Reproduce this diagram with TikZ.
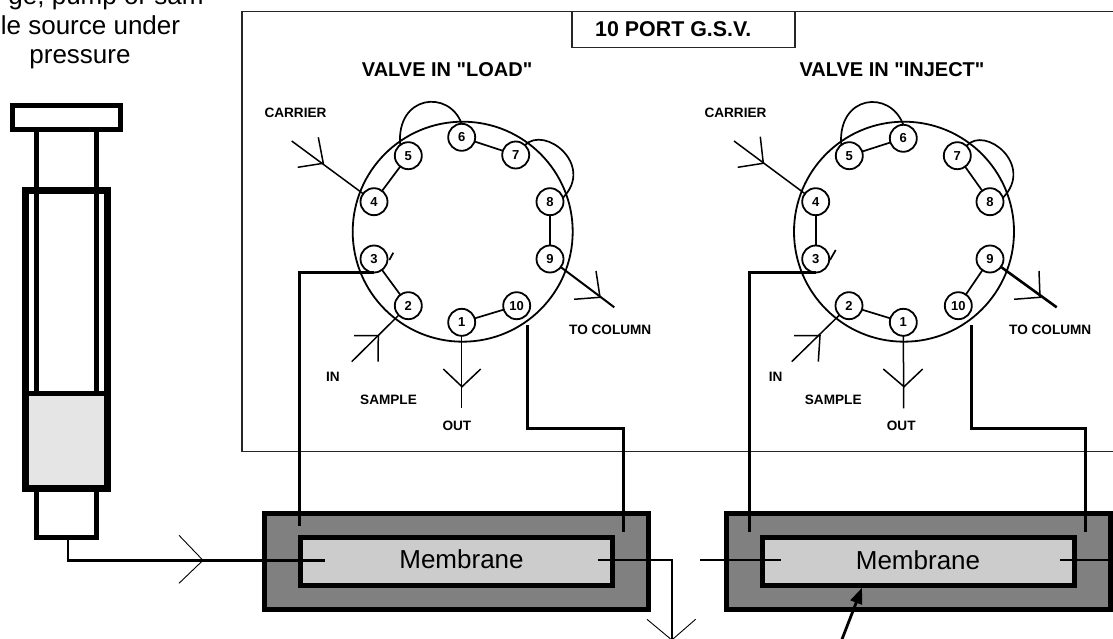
\documentclass[tikz,border=0pt]{standalone}
\usepackage{fontspec}
\setmainfont{Liberation Sans}[Ligatures=TeXOff]
\usetikzlibrary{arrows.meta}

\begin{document}
\begin{tikzpicture}[ x = 1pt
                     , y = -1pt
                     , port/.style = { circle
                                     , draw = black
                                     , line width = 1.8pt
                                     , fill = white
                                     , inner sep = 0pt
                                     , outer sep = 0pt
                                     , minimum size = 27pt
                                     , font = \bfseries\fontsize{13}{13}\selectfont }
                     , dial/.style = { circle
                                     , draw = black
                                     , line width = 1.8pt
                                     , inner sep = 0pt
                                     , outer sep = 0pt
                                     , minimum size = 220pt }
                     , link/.style = { line width = 1.7pt }
                     , barb/.style = { line width = 1.5pt }
                     , thinbarb/.style = { line width = 0.9pt }
                     , pipe/.style = { line width = 2.7pt, line join = miter }
                     , wall/.style = { line width = 4.8pt, draw = black }
                     , tag/.style = { anchor = base west
                                    , inner sep = 0pt
                                    , font = \bfseries\fontsize{13.6}{14}\selectfont }
                     , headline/.style = { anchor = base west
                                         , inner sep = 0pt
                                         , font = \bfseries\fontsize{20}{22}\selectfont }
                     , plain/.style = { anchor = base
                                      , inner sep = 0pt
                                      , font = \fontsize{26}{28}\selectfont }
                     , outerbox/.style = { rectangle
                                         , draw = black
                                         , line width = 4.8pt
                                         , fill = black!50
                                         , outer sep = 0pt
                                         , minimum height = 96pt }
                     , innerbox/.style = { rectangle
                                         , draw = black
                                         , line width = 4.8pt
                                         , fill = black!20
                                         , outer sep = 0pt
                                         , minimum height = 48pt }
                     ]

  \useasboundingbox (0,0) rectangle (1113,639);

  \node (noteA) [plain] at (106,5) {ge, pump or sam};
  \node (noteB) [plain] at (90.5,35) {le source under};
  \node (noteC) [plain] at (80,64) {pressure};

  % syringe
  \draw[wall] (12.4,105.4) rectangle (120.7,129.4);
  \draw[wall, fill = black!10] (25.5,393.3) rectangle (107.3,488.3);
  \draw[wall] (36.5,129.4) -- (36.5,393.3) (96.5,129.4) -- (96.5,393.3);
  \draw[wall, line width = 7pt] (25.5,190.3) rectangle (107.3,488.3);
  \draw[wall] (36.5,488.3) -- (36.5,537.3) -- (96.5,537.3) -- (96.5,488.3);

  % panel
  \draw[line width = 1.3pt, draw = black!85] (1114,11.3) -- (242,11.3) -- (242,451.3) -- (1114,451.3);
  \node (title) [headline, font = \bfseries\fontsize{21.4}{22}\selectfont] at (595,36.7) {10 PORT G.S.V.};
  \draw[line width = 1.3pt, draw = black!85] (572,11.3) |- (795,47.7) -- (795,11.3);

  \node (headL) [headline] at (361.7,76.7) {VALVE IN "LOAD"};
  \node (headR) [headline] at (799.3,76.7) {VALVE IN "INJECT"};

  \node (carrierL) [tag] at (264.3,117.3) {CARRIER};
  \node (carrierR) [tag] at (704.3,117.3) {CARRIER};
  \node (columnL) [tag] at (569,334) {TO COLUMN};
  \node (columnR) [tag] at (1009,334) {TO COLUMN};
  \node (inL) [tag] at (326,381.7) {IN};
  \node (inR) [tag] at (768.7,381.7) {IN};
  \node (sampleL) [tag] at (360,404) {SAMPLE};
  \node (sampleR) [tag] at (804.7,404) {SAMPLE};
  \node (outL) [tag] at (442.3,430) {OUT};
  \node (outR) [tag] at (886.7,430) {OUT};

  \node (dialL) [dial] at (462.7,231.7) {};
  \node (dialR) [dial] at (904,231.7) {};

  \foreach \n/\x/\y in {1/461.7/322.3, 2/408.3/305.7, 3/374/259, 4/374/201.7, 5/408.3/155.7,
                        6/461.7/137.3, 7/515.7/155, 8/550/201.7, 9/550/259, 10/516.7/305.7}
    \node (l\n) [port] at (\x,\y) {\n};

  \foreach \n/\x/\y in {1/903.3/322.3, 2/849/305.7, 3/815.7/259, 4/815.7/201.7, 5/849.3/155.7,
                        6/903.3/138.3, 7/957.3/155.7, 8/990/201.7, 9/990/259, 10/958.3/305.7}
    \node (r\n) [port] at (\x,\y) {\n};

  \foreach \a/\b in {l5/l4, l6/l7, l8/l9, l10/l1, l3/l2, r5/r6, r7/r8, r4/r3, r2/r1, r9/r10}
    \draw[link] (\a) -- (\b);

  % loops outside the dial
  \draw[link] (l5.127) .. controls (396,95) and (449,89) .. (l6.north);
  \draw[link] (l7.47) .. controls (545,125) and (595,165) .. (l8.17);
  \draw[link] (r5.127) .. controls (837.5,95) and (890,89) .. (r6.north);
  \draw[link] (r7.47) .. controls (985,125) and (1035,165) .. (r8.17);

  \coordinate (stubLa) at (389.3,260);
  \coordinate (stubLb) at (393.3,252.7);
  \coordinate (stubRa) at (830,260);
  \coordinate (stubRb) at (835.7,250);
  \draw[link] (stubLa) -- (stubLb);
  \draw[link] (stubRa) -- (stubRb);

  % valve ports out
  \coordinate (carrierEndL) at (291.7,141);
  \coordinate (carrierEndR) at (734,141);
  \coordinate (sampleEndL) at (351.7,361.7);
  \coordinate (sampleEndR) at (791.7,361.7);
  \coordinate (outEndL) at (461.7,408.3);
  \coordinate (outEndR) at (903.7,408.3);
  \coordinate (columnEndL) at (614.3,307.3);
  \coordinate (columnEndR) at (1056.7,307.3);

  \draw[barb] (l4) -- (carrierEndL);
  \draw[barb] (r4) -- (carrierEndR);
  \draw[barb] (l2) -- (sampleEndL);
  \draw[barb] (r2) -- (sampleEndR);
  \draw[barb] (l1) -- (outEndL);
  \draw[barb] (r1) -- (outEndR);
  \draw[barb, line width = 2pt] (l9) -- (columnEndL);
  \draw[barb, line width = 2.6pt] (r9) -- (columnEndR);

  \foreach \ax/\ay/\vx/\vy/\bx/\by in {318.3/137.3/323.3/163.3/297.7/167.3,
                                       760.3/136.7/763.3/163.3/737.7/167.3,
                                       354/335.7/378.3/335.7/378/361.7,
                                       794/335.7/820/335.7/818.3/361.7,
                                       443.3/369/462/386.7/480.7/369,
                                       883.3/369/904/386.7/922.7/369,
                                       596/271/600/297.3/574/299.3,
                                       1039/271/1040/297.3/1014/299.3}
    \draw[barb] (\ax,\ay) -- (\vx,\vy) -- (\bx,\by);

  % membranes
  \node (caseL) [outerbox, minimum width = 384pt] at (456.7,561.3) {};
  \node (caseR) [outerbox, minimum width = 384pt] at (918.8,561.3) {};
  \node (memL) [innerbox, minimum width = 312pt] at (456.3,561.3) {};
  \node (memR) [innerbox, minimum width = 312pt] at (918.4,561.3) {};
  \node (memTextL) [plain] at (461.5,568) {Membrane};
  \node (memTextR) [plain] at (918,569.3) {Membrane};

  \coordinate (hookA) at (299.5,525.7);
  \coordinate (hookB) at (623.3,531.7);
  \coordinate (hookC) at (749.3,531.7);
  \coordinate (hookD) at (1085.7,531.7);

  \draw[pipe] (l3.south) -| (hookA);
  \draw[pipe] (r3.south) -| (hookC);
  \draw[pipe] (527.5,325) |- (575,428.7) -| (hookB);
  \draw[pipe] (971.3,325) |- (1030,428.7) -| (hookD);

  % flow lines
  \coordinate (syringeTip) at (67.7,538);
  \coordinate (feedEnd) at (325,560.3);
  \coordinate (wasteA) at (597.7,560.3);
  \coordinate (wasteB) at (671.8,642);
  \coordinate (transferA) at (700,560.3);
  \coordinate (transferB) at (780.5,560.3);
  \coordinate (returnA) at (1060,560.3);
  \coordinate (returnB) at (1114,560.3);

  \draw[link, line width = 2.4pt] (syringeTip) |- (feedEnd);
  \draw[link, line width = 2.2pt] (wasteA) -| (wasteB);
  \draw[link, line width = 2.2pt] (transferA) -- (transferB);
  \draw[link, line width = 2.2pt] (returnA) -- (returnB);

  \draw[thinbarb] (179,535.3) -- (203,560.3) -- (179,583.3);
  \draw[thinbarb] (647,619.3) -- (671.8,640) -- (695.6,619.3);

  \coordinate (pointerFoot) at (841.7,640);
  \coordinate (pointerTip) at (862,587.7);
  \draw[-{Triangle[length=16pt, width=12pt]}, line width = 2.8pt] (pointerFoot) -- (pointerTip);

\end{tikzpicture}
\end{document}
